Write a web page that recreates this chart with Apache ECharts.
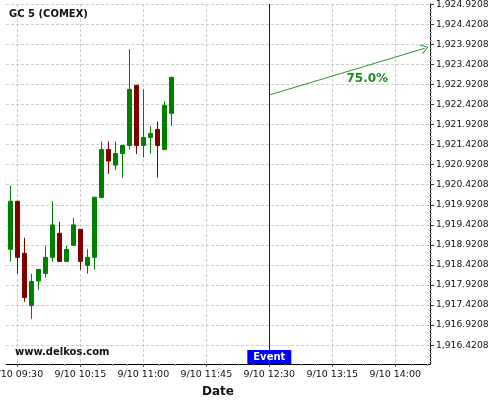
<!DOCTYPE html>
<html>
<head>
<meta charset="utf-8">
<script src="https://cdn.jsdelivr.net/npm/echarts@6/dist/echarts.min.js"></script>
<style>html,body{margin:0;padding:0;background:#fff}#c{width:500px;height:400px}</style>
</head>
<body>
<div id="c"></div>
<script>
// ---- data (5-minute candles, 9/10) ----
var times = ['09:25','09:30','09:35','09:40','09:45','09:50','09:55','10:00','10:05','10:10','10:15','10:20',
             '10:25','10:30','10:35','10:40','10:45','10:50','10:55','11:00','11:05','11:10','11:15','11:20'];
var openV  = [1918.81,1920.01,1918.71,1917.41,1918.02,1918.21,1918.61,1919.21,1918.51,1918.91,1919.31,1918.41,
              1918.61,1920.10,1921.30,1920.91,1921.20,1921.40,1922.90,1921.40,1921.60,1921.80,1921.30,1922.20];
var closeV = [1920.01,1918.61,1917.61,1918.01,1918.31,1918.61,1919.42,1918.51,1918.81,1919.42,1918.51,1918.61,
              1920.11,1921.30,1921.01,1921.20,1921.40,1922.80,1921.40,1921.60,1921.70,1921.40,1922.40,1923.10];
var lowV   = [1918.50,1918.20,1917.50,1917.08,1917.80,1918.10,1918.50,1918.50,1918.50,1918.90,1918.30,1918.20,
              1918.30,1920.09,1920.69,1920.79,1920.59,1921.30,1921.19,1921.10,1921.20,1920.60,1921.28,1921.89];
var highV  = [1920.40,1920.01,1919.10,1918.20,1918.31,1918.90,1920.01,1919.50,1918.90,1919.60,1919.31,1918.81,
              1920.11,1921.50,1921.50,1921.50,1921.40,1923.80,1922.90,1922.80,1921.89,1922.00,1922.50,1923.10];

// x tick labels (time of day) and y tick labels
var xTickTimes = ['09:30','10:15','11:00','11:45','12:30','13:15','14:00'];
var yTicks = [1916.4208,1916.9208,1917.4208,1917.9208,1918.4208,1918.9208,1919.4208,1919.9208,1920.4208,
              1920.9208,1921.4208,1921.9208,1922.4208,1922.9208,1923.4208,1923.9208,1924.4208,1924.9208];

// event / forecast annotation
var eventTime = '12:30';
var arrowStart = ['12:30', 1922.659];
var arrowEnd = ['14:21', 1923.824];
var probText = '75.0%';
var probAt = ['13:40', 1923.05];

var titleText = 'GC 5 (COMEX)';
var datePrefix = '9/10 ';
var xRange = ['09:21.9', '14:24.8'];
var yRange = [1915.951, 1924.928];

// ---- helpers ----
function toMin(t) { var p = t.split(':'); return (+p[0]) * 60 + parseFloat(p[1]); }
function pad(n) { return (n < 10 ? '0' : '') + n; }
function fmtTime(m) { m = Math.round(m); return pad(Math.floor(m / 60)) + ':' + pad(m % 60); }
function fmtNum(v) {
  var s = v.toFixed(4).split('.');
  return s[0].replace(/\B(?=(\d{3})+(?!\d))/g, ',') + '.' + s[1];
}

var xMin = toMin(xRange[0]), xMax = toMin(xRange[1]);
var xMajor = xTickTimes.map(toMin);
var xStep = xMajor[1] - xMajor[0];
var xMinor = [];
for (var m = xMajor[0] - xStep; m <= xMajor[xMajor.length - 1] + xStep; m += xStep / 4) {
  if (m > xMin && m < xMax && xMajor.indexOf(m) < 0) xMinor.push(m);
}
var yStep = yTicks[1] - yTicks[0];
var yMinor = [];
for (var v = yTicks[0] - yStep; v <= yTicks[yTicks.length - 1] + 1e-9; v += yStep / 5) {
  var r = Math.round(v * 10000) / 10000;
  var isMajor = yTicks.some(function (t) { return Math.abs(t - r) < 1e-6; });
  if (r > yRange[0] && r < yRange[1] && !isMajor) yMinor.push(r);
}

var candleData = times.map(function (t, i) {
  return [toMin(t), openV[i], closeV[i], lowV[i], highV[i]];
});

var FONT = 'DejaVu Sans';
var chart = echarts.init(document.getElementById('c'), null, { renderer: 'canvas' });
chart.setOption({
  animation: false,
  backgroundColor: '#ffffff',
  title: [
    { text: titleText, left: 9, top: 9, padding: 0,
      textStyle: { fontFamily: FONT, fontSize: 10, fontWeight: 'bold', color: '#111' } },
    { text: 'www.delkos.com', left: 15, top: 347, padding: 0,
      textStyle: { fontFamily: FONT, fontSize: 10, fontWeight: 'bold', color: '#111' } }
  ],
  grid: { left: 6, right: 70, top: 4, bottom: 36, containLabel: false, outerBoundsMode: 'none' },
  xAxis: [{
    type: 'value', min: xMin, max: xMax, position: 'bottom',
    name: 'Date', nameLocation: 'middle', nameGap: 22,
    nameTextStyle: { fontFamily: FONT, fontSize: 12, fontWeight: 'bold', color: '#111' },
    axisLine: { show: true, onZero: false, lineStyle: { color: '#000', width: 1 } },
    axisTick: { show: true, length: 3, customValues: xMajor, lineStyle: { color: '#555' } },
    axisLabel: { show: true, customValues: xMajor, margin: 6, fontFamily: FONT, fontSize: 9.5, color: '#111',
      formatter: function (val) { return datePrefix + fmtTime(val); } },
    splitLine: { show: true, lineStyle: { color: '#cccccc', type: [3, 2], width: 1 } }
  }, {
    type: 'value', min: xMin, max: xMax, position: 'bottom', gridIndex: 0,
    axisLine: { show: false },
    axisTick: { show: true, length: 2, customValues: xMinor, lineStyle: { color: '#999' } },
    axisLabel: { show: false },
    splitLine: { show: false }
  }],
  yAxis: [{
    type: 'value', min: yRange[0], max: yRange[1], position: 'right', scale: true,
    axisLine: { show: true, onZero: false, lineStyle: { color: '#000', width: 1 } },
    axisTick: { show: true, length: 4, customValues: yTicks, lineStyle: { color: '#333' } },
    axisLabel: { show: true, customValues: yTicks, margin: 6, fontFamily: FONT, fontSize: 9.2, color: '#111',
      formatter: function (val) { return fmtNum(val); } },
    splitLine: { show: true, lineStyle: { color: '#cccccc', type: [3, 2], width: 1 } }
  }, {
    type: 'value', min: yRange[0], max: yRange[1], position: 'right', scale: true,
    axisLine: { show: false },
    axisTick: { show: true, length: 2, customValues: yMinor, lineStyle: { color: '#999' } },
    axisLabel: { show: false },
    splitLine: { show: false }
  }],
  series: [{
    type: 'candlestick',
    xAxisIndex: 0, yAxisIndex: 0,
    barWidth: 4,
    data: candleData,
    itemStyle: { color: '#008000', color0: '#800000', borderColor: '#008000', borderColor0: '#800000', borderWidth: 1 },
    markLine: {
      silent: true, animation: false,
      data: [
        [{ coord: [toMin(eventTime), yRange[0]], symbol: 'none' },
         { coord: [toMin(eventTime), yRange[1]], symbol: 'none' }],
        [{ coord: [toMin(arrowStart[0]), arrowStart[1]], symbol: 'none',
           lineStyle: { color: '#2a922a', width: 1, type: 'solid' } },
         { coord: [toMin(arrowEnd[0]), arrowEnd[1]],
           symbol: 'path://M0,0 L6,10 L5,10.8 L0,2.2 L-5,10.8 L-6,10 Z', symbolSize: [10, 8],
           lineStyle: { color: '#2a922a', width: 1, type: 'solid' } }]
      ],
      lineStyle: { color: '#0000ff', width: 1, type: 'solid' },
      label: { show: false }
    },
    markPoint: {
      silent: true, animation: false,
      data: [
        { coord: [toMin(eventTime), yRange[0]], symbol: 'rect', symbolSize: [44, 14], symbolOffset: [0, -7],
          itemStyle: { color: '#0000ff' },
          label: { show: true, position: 'inside', formatter: 'Event', color: '#fff',
                   fontFamily: FONT, fontSize: 10, fontWeight: 'bold' } },
        { coord: [toMin(probAt[0]), probAt[1]], symbol: 'circle', symbolSize: 0,
          label: { show: true, position: 'inside', formatter: probText, color: '#1f8c1f',
                   fontFamily: FONT, fontSize: 12, fontWeight: 'bold' } }
      ]
    }
  }]
});
</script>
</body>
</html>
